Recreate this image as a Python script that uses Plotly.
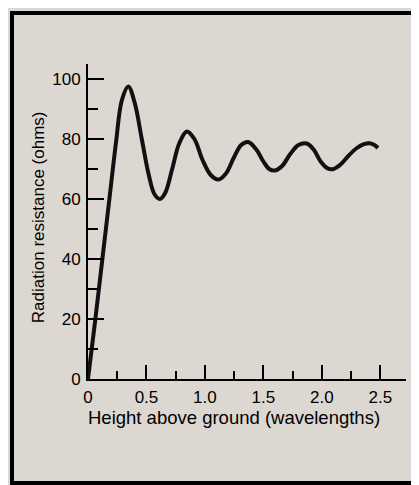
import plotly.graph_objects as go

# height above ground (wavelengths) and radiation resistance (ohms)
chieu_cao = [0, 0.06, 0.12, 0.18, 0.24, 0.29, 0.345, 0.40, 0.46, 0.52, 0.57, 0.615,
             0.66, 0.72, 0.78, 0.845, 0.91, 0.98, 1.05, 1.115, 1.18, 1.25, 1.31, 1.37,
             1.44, 1.50, 1.55, 1.60, 1.66, 1.73, 1.80, 1.87, 1.93, 1.99, 2.05, 2.10,
             2.16, 2.23, 2.30, 2.36, 2.41, 2.45, 2.48]
dien_tro = [0, 19, 39, 59, 79, 93, 97.5, 92, 80, 68, 61.5, 60,
            62, 70, 78.5, 82.5, 80, 73, 68, 66.5, 68.5, 74, 78, 79,
            76.5, 72.5, 70, 69.5, 71, 75, 78, 78.5, 76.5, 72.5, 70.2, 70,
            71.5, 74.5, 77, 78.3, 78.6, 78, 77]

x_ticks = [0, 0.5, 1.0, 1.5, 2.0, 2.5]
x_labels = ['0', '0.5', '1.0', '1.5', '2.0', '2.5']
y_ticks = [0, 20, 40, 60, 80, 100]
y_labels = ['0', '20', '40', '60', '80', '100']

nen = '#ddd7d2'
font_chu = 'Liberation Sans, Arial, Helvetica, sans-serif'

fig = go.Figure()
fig.add_trace(go.Scatter(x=chieu_cao, y=dien_tro, mode='lines',
                         line=dict(color='#111111', width=4, shape='spline', smoothing=1.0),
                         hoverinfo='skip'))

fig.update_xaxes(range=[0, 2.72], showline=True, linecolor='black', linewidth=2,
                 showgrid=False, zeroline=False,
                 tickvals=x_ticks, ticktext=x_labels, ticks='inside', ticklen=14,
                 tickwidth=2, tickcolor='black', ticklabelstandoff=2,
                 minor=dict(dtick=0.25, tick0=0, ticks='inside', ticklen=8,
                            tickwidth=2, tickcolor='black'),
                 tickfont=dict(size=17, color='black'))
fig.update_yaxes(range=[0, 105], showline=True, linecolor='black', linewidth=2,
                 showgrid=False, zeroline=False,
                 tickvals=y_ticks, ticktext=y_labels, ticks='inside', ticklen=16,
                 tickwidth=2, tickcolor='black', ticklabelstandoff=2,
                 minor=dict(dtick=10, tick0=0, ticks='inside', ticklen=10,
                            tickwidth=2, tickcolor='black'),
                 tickfont=dict(size=17, color='black'))

# axis titles as annotations so they sit where the scan has them
fig.add_annotation(text='Height above ground (wavelengths)', xref='paper', yref='paper',
                   x=0.458, y=-0.121, xanchor='center', yanchor='middle', showarrow=False,
                   font=dict(size=18.5, color='black', family=font_chu))
fig.add_annotation(text='Radiation resistance (ohms)', xref='paper', yref='paper',
                   x=-0.157, y=0.514, xanchor='center', yanchor='middle',
                   showarrow=False, textangle=-90,
                   font=dict(size=17, color='black', family=font_chu))

# black frame: left, top and bottom sides (the right side is off the page)
khung = dict(type='line', xref='paper', yref='paper', line=dict(color='black', width=4))
fig.add_shape(x0=-0.239, x1=-0.239, y0=-0.330, y1=1.162, **khung)
fig.add_shape(x0=-0.245, x1=1.2, y0=1.162, y1=1.162, **khung)
fig.add_shape(x0=-0.245, x1=1.2, y0=-0.330, y1=-0.330, **khung)

# the page puts the figure 8px in from the top-left corner
fig.update_layout(width=411, height=477, showlegend=False,
                  margin=dict(l=80, r=13, t=56, b=106),
                  paper_bgcolor=nen, plot_bgcolor=nen,
                  font=dict(family=font_chu, color='black'))

fig.write_html("out.html")
